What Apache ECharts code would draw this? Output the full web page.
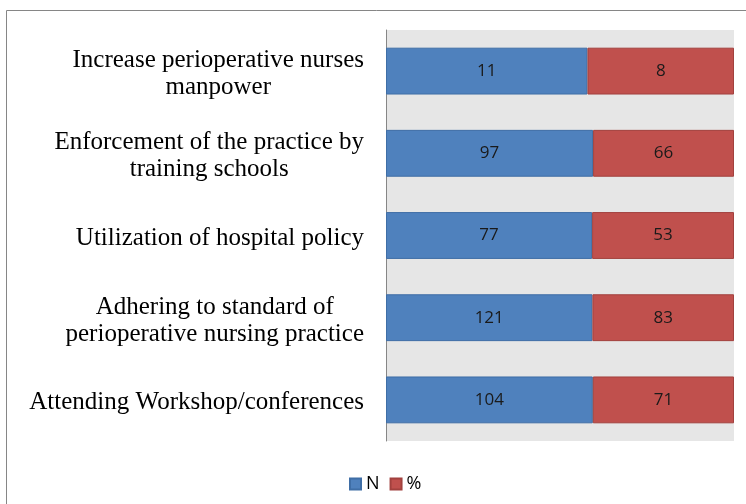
<!DOCTYPE html>
<html><head><meta charset="utf-8">
<script src="https://cdn.jsdelivr.net/npm/echarts@6/dist/echarts.min.js"></script>
<style>html,body{margin:0;padding:0;background:#fff}#c{width:746px;height:504px}</style>
</head><body><div id="c"></div>
<script>
const categories = [
  "Increase perioperative nurses\nmanpower",
  "Enforcement of the practice by\ntraining schools",
  "Utilization of hospital policy",
  "Adhering to standard of\nperioperative nursing practice",
  "Attending Workshop/conferences"
];
const seriesN = [11, 97, 77, 121, 104];
const seriesPct = [8, 66, 53, 83, 71];
const seriesNames = ["N", "%"];

const totals = seriesN.map((v, i) => v + seriesPct[i]);
function share(arr) {
  return arr.map((v, i) => ({ value: v / totals[i] * 100, raw: v }));
}

const chart = echarts.init(document.getElementById('c'), null, { renderer: 'canvas' });
const labelStyle = {
  show: true, position: 'inside', color: '#1a1a1a',
  fontFamily: 'Open Sans, Liberation Sans, sans-serif', fontSize: 17,
  formatter: p => p.data.raw
};
chart.setOption({
  animation: false,
  graphic: [{
    type: 'rect', silent: true,
    shape: { x: 6.5, y: 10.5, width: 900, height: 700 },
    style: { fill: 'none', stroke: '#868686', lineWidth: 1 }
  }],
  grid: { left: 386, top: 30, right: 12, bottom: 63, show: true,
          backgroundColor: '#e6e6e6', borderWidth: 0 },
  legend: {
    data: seriesNames, left: 344, top: 470, itemWidth: 11, itemHeight: 11, itemGap: 10,
    icon: 'rect',
    textStyle: { fontFamily: 'Open Sans, Liberation Sans, sans-serif', fontSize: 18, color: '#000', padding: [0, 0, 0, 0] }
  },
  xAxis: {
    type: 'value', min: 0, max: 100,
    axisLine: { show: false }, axisTick: { show: false },
    axisLabel: { show: false }, splitLine: { show: false }
  },
  yAxis: {
    type: 'category', data: categories, inverse: true,
    axisLine: { show: true, lineStyle: { color: '#868686', width: 1 } },
    axisTick: { show: false },
    axisLabel: {
      margin: 22, align: 'right', color: '#000', padding: [6, 0, 0, 0],
      fontFamily: 'Liberation Serif, Times New Roman, serif', fontSize: 25, lineHeight: 27,
      formatter: v => v.split('\n').map(s => '{c|' + s + '}').join('\n'),
      rich: { c: { align: 'center', fontFamily: 'Liberation Serif, serif', fontSize: 25, lineHeight: 27, color: '#000' } }
    }
  },
  series: [
    { name: seriesNames[0], type: 'bar', stack: 'a', barCategoryGap: '43%',
      data: share(seriesN), label: labelStyle,
      itemStyle: { color: '#4f81bd', borderColor: '#3f6ea6', borderWidth: 1 } },
    { name: seriesNames[1], type: 'bar', stack: 'a', barCategoryGap: '43%',
      data: share(seriesPct), label: labelStyle,
      itemStyle: { color: '#c0504d', borderColor: '#a2413e', borderWidth: 1 } }
  ]
});
</script></body></html>
